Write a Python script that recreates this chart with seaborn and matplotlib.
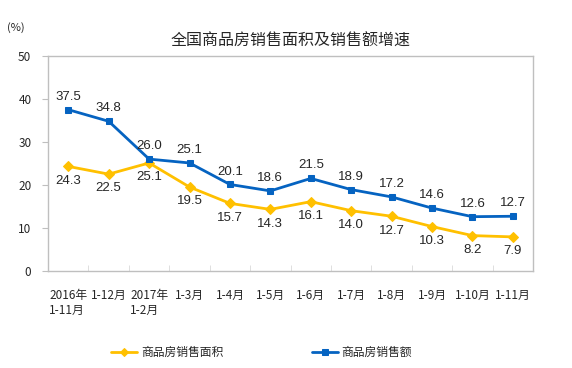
import pandas as pd
import seaborn as sns
import matplotlib.pyplot as plt
import numpy as np

# data
months = ['2016年\n1-11月', '1-12月', '2017年\n1-2月', '1-3月', '1-4月', '1-5月',
          '1-6月', '1-7月', '1-8月', '1-9月', '1-10月', '1-11月']
area_growth = [24.3, 22.5, 25.1, 19.5, 15.7, 14.3, 16.1, 14.0, 12.7, 10.3, 8.2, 7.9]
sales_growth = [37.5, 34.8, 26.0, 25.1, 20.1, 18.6, 21.5, 18.9, 17.2, 14.6, 12.6, 12.7]
area_name = '商品房销售面积'
sales_name = '商品房销售额'

sns.set_style('white')
plt.rcParams['font.family'] = ['Noto Sans CJK SC', 'DejaVu Sans']

df = pd.DataFrame({'pos': np.arange(len(months)), area_name: area_growth, sales_name: sales_growth})

fig = plt.figure(figsize=(5.72, 3.68), dpi=100)
ax = fig.add_axes([0.084, 0.264, 0.848, 0.584])

yellow = '#FFC000'
blue = '#0563C1'
sns.lineplot(data=df, x='pos', y=area_name, ax=ax, color=yellow, marker='D', markersize=5,
             markeredgecolor=yellow, linewidth=2, label=area_name)
sns.lineplot(data=df, x='pos', y=sales_name, ax=ax, color=blue, marker='s', markersize=5,
             markeredgecolor=blue, linewidth=2, label=sales_name)

# value labels: sales above, area below
for i, (a, s) in enumerate(zip(area_growth, sales_growth)):
    ax.annotate(f'{s:.1f}', (i, s), xytext=(0, 5), textcoords='offset points',
                ha='center', va='bottom', fontsize=9.5, family='Liberation Sans')
    ax.annotate(f'{a:.1f}', (i, a), xytext=(0, -6), textcoords='offset points',
                ha='center', va='top', fontsize=9.5, family='Liberation Sans')

ax.set_xlim(-0.5, len(months) - 0.5)
ax.set_ylim(0, 50)
ax.set_yticks(range(0, 51, 10))
ax.set_xticks(np.arange(len(months)))
ax.set_xticklabels(months, fontsize=8.5, ha='center', multialignment='left', linespacing=1.2)
ax.tick_params(axis='x', length=0, pad=13)
ax.tick_params(axis='y', labelsize=8.5, length=4, color='#BFBFBF', direction='out', left=True, pad=8)
# small tick marks between categories along the bottom
ax.set_xticks(np.arange(-0.5, len(months), 1), minor=True)
ax.tick_params(axis='x', which='minor', length=4, direction='in', color='#D9D9D9', bottom=True)
for sp in ax.spines.values():
    sp.set_color('#BFBFBF')
    sp.set_linewidth(1)
ax.set_xlabel('')
ax.set_ylabel('')

ax.set_title('全国商品房销售面积及销售额增速', fontsize=11.5, pad=7)
fig.text(0.012, 0.915, '(%)', fontsize=8)

ax.legend(loc='upper center', bbox_to_anchor=(0.44, -0.3), ncol=2, frameon=False,
          fontsize=8.5, handlelength=2.2, handletextpad=0.3, columnspacing=7.5, markerscale=0.8)

fig.savefig('out.png', dpi=100)
